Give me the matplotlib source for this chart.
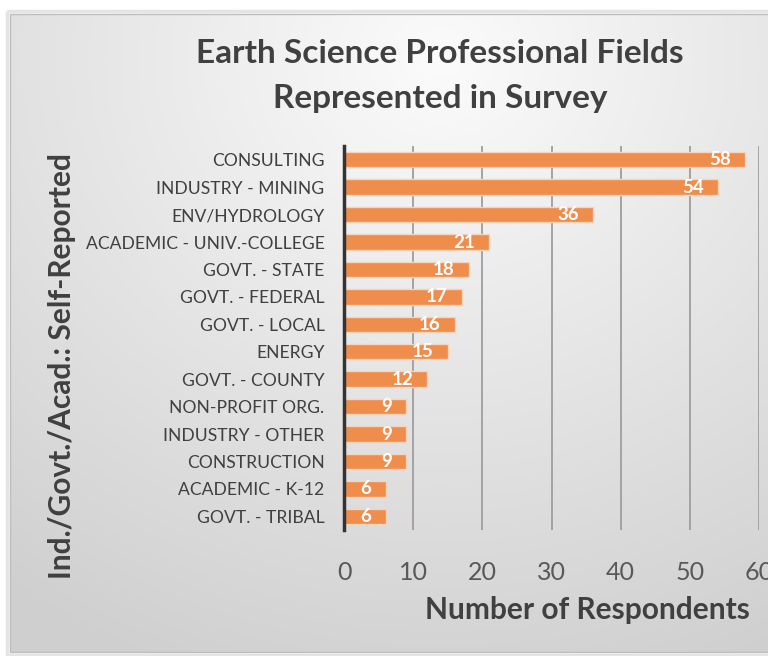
import numpy as np
import matplotlib
matplotlib.use("Agg")
import matplotlib.pyplot as plt
from matplotlib.patches import Rectangle

categories = ["CONSULTING", "INDUSTRY - MINING", "ENV/HYDROLOGY",
              "ACADEMIC - UNIV.-COLLEGE", "GOVT. - STATE", "GOVT. - FEDERAL",
              "GOVT. - LOCAL", "ENERGY", "GOVT. - COUNTY", "NON-PROFIT ORG.",
              "INDUSTRY - OTHER", "CONSTRUCTION", "ACADEMIC - K-12",
              "GOVT. - TRIBAL"]
respondents = [58, 54, 36, 21, 18, 17, 16, 15, 12, 9, 9, 9, 6, 6]
x_ticks = [0, 10, 20, 30, 40, 50, 60]

title = "Earth Science Professional Fields\nRepresented in Survey"
x_label = "Number of Respondents"
y_label = "Ind./Govt./Acad.: Self-Reported"

plt.rcParams["font.family"] = ["Lato", "DejaVu Sans"]

W, H = 768, 656
fig = plt.figure(figsize=(W / 100, H / 100), dpi=100)
fig.patch.set_facecolor("white")

# background panel with soft radial gradient (chart area frame)
bg = fig.add_axes([0, 0, 1, 1], zorder=0)
bg.set_xlim(0, W)
bg.set_ylim(H, 0)
bg.axis("off")
yy, xx = np.mgrid[0:H, 0:W]
d = np.sqrt(((xx - 440) / 1.0) ** 2 + ((yy - 60) / 0.9) ** 2)
g = np.clip(d / 720, 0, 1)
shade = 0.985 - 0.17 * g
img = np.dstack([shade, shade, shade])
bg.imshow(img, extent=(0, W, H, 0), zorder=0)
frame = Rectangle((10, 14), W, 638, facecolor="none", edgecolor="#bdbdbd",
                  linewidth=1.0, zorder=2)
bg.add_patch(frame)
im = bg.images[0]
im.set_clip_path(Rectangle((10, 14), W, 638, transform=bg.transData))
# faint shadow outside the frame
bg.add_patch(Rectangle((7, 11), W, 644, facecolor="none", edgecolor="#e4e4e4",
                       linewidth=2.5, zorder=1))

# main axes
left, right = 344 / W, 759 / W
top, bottom = 1 - 146 / H, 1 - 530 / H
ax = fig.add_axes([left, bottom, right - left, top - bottom], zorder=1)
ax.set_facecolor("none")

ypos = np.arange(len(categories))
bars = ax.barh(ypos, respondents, height=0.56, color="#EF8D4D",
               edgecolor="#f9d3b8", linewidth=1.0, zorder=3)

for y, v in zip(ypos, respondents):
    ax.annotate(str(v), xy=(v, y), xytext=(-10, 0), textcoords="offset points",
                ha="right", va="center", color="white", fontsize=13.5,
                fontweight="bold", zorder=4)

ax.set_xlim(0, 60)
ax.set_ylim(len(categories) - 0.5, -0.5)
ax.set_xticks(x_ticks)
ax.set_yticks(ypos)
ax.set_yticklabels(categories, fontsize=12.6, color="#404040")
ax.tick_params(axis="x", labelsize=18, labelcolor="#595959", length=0, pad=22)
ax.tick_params(axis="y", length=0, pad=14)

ax.grid(axis="x", color="#a3a3a3", linewidth=1.4, zorder=0)
ax.set_axisbelow(True)
for s in ["top", "right", "bottom"]:
    ax.spines[s].set_visible(False)
ax.spines["left"].set_color("#333333")
ax.spines["left"].set_linewidth(2.5)
ax.spines["left"].set_zorder(5)

fig.text(440 / W, 1 - 76 / H, title, ha="center", va="center", fontsize=24,
         fontweight="bold", color="#404040", linespacing=1.65)
fig.text(587 / W, 1 - 610 / H, x_label, ha="center", va="center", fontsize=21.5,
         fontweight="bold", color="#404040")
fig.text(62 / W, 1 - 366 / H, y_label, ha="center", va="center", fontsize=21.5,
         fontweight="bold", color="#404040", rotation=90)

fig.savefig("out.png", dpi=100)
